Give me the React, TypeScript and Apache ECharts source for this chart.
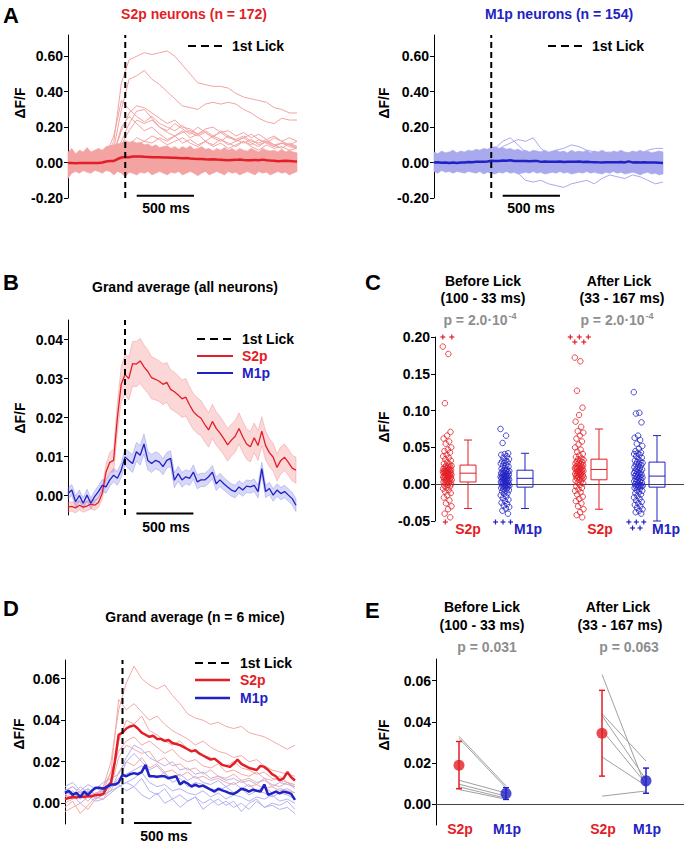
import React, { useEffect, useRef } from 'react';
import * as echarts from 'echarts';

const FONT = '"Liberation Sans", Arial, Helvetica, sans-serif';
const RED = '#e31e26';
const BLUE = '#2222c4';
const PINK = '#f4a3a3';
const LBLUE = '#a9a9ee';
const GRAY = '#8e8e8e';

// ---------- time base (30 Hz frames, -500 .. +1500 ms around 1st lick) ----------
const FRAME_MS = 1000 / 30;
const t61 = Array.from({ length: 61 }, (_, i) => -500 + i * FRAME_MS);
const t31 = Array.from({ length: 31 }, (_, k) => -500 + 2 * k * FRAME_MS);

// ---------- Panel B: grand average (all neurons), mean and SEM ----------
const bS2pMean = [
  -0.0030, -0.0028, -0.0032, -0.0025, -0.0030, -0.0027, -0.0022, -0.0025, -0.0018, 0.0005,
  0.0060, 0.0085, 0.0090, 0.0200, 0.0285, 0.0310, 0.0300, 0.0338, 0.0337, 0.0345,
  0.0330, 0.0318, 0.0302, 0.0298, 0.0293, 0.0285, 0.0290, 0.0272, 0.0266, 0.0258,
  0.0248, 0.0252, 0.0232, 0.0215, 0.0205, 0.0198, 0.0182, 0.0168, 0.0190, 0.0172,
  0.0160, 0.0146, 0.0130, 0.0142, 0.0152, 0.0172, 0.0150, 0.0132, 0.0125, 0.0148,
  0.0128, 0.0165, 0.0128, 0.0110, 0.0098, 0.0072, 0.0090, 0.0098, 0.0085, 0.0070,
  0.0065,
];
const bS2pSem = [
  0.0012, 0.0012, 0.0013, 0.0012, 0.0013, 0.0012, 0.0012, 0.0013, 0.0013, 0.0015,
  0.0020, 0.0025, 0.0030, 0.0038, 0.0045, 0.0052, 0.0055, 0.0057, 0.0058, 0.0058,
  0.0056, 0.0055, 0.0054, 0.0053, 0.0052, 0.0052, 0.0051, 0.0050, 0.0050, 0.0049,
  0.0048, 0.0048, 0.0047, 0.0046, 0.0046, 0.0045, 0.0045, 0.0044, 0.0044, 0.0043,
  0.0043, 0.0042, 0.0042, 0.0041, 0.0041, 0.0040, 0.0040, 0.0039, 0.0039, 0.0038,
  0.0038, 0.0037, 0.0037, 0.0036, 0.0036, 0.0035, 0.0035, 0.0034, 0.0034, 0.0033,
  0.0033,
];
const bM1pMean = [
  0.0005, 0.0014, -0.0016, 0.0000, -0.0020, 0.0001, -0.0020, -0.0003, 0.0010, 0.0026,
  0.0022, 0.0040, 0.0052, 0.0044, 0.0065, 0.0099, 0.0090, 0.0082, 0.0112, 0.0103,
  0.0132, 0.0090, 0.0082, 0.0090, 0.0086, 0.0074, 0.0090, 0.0095, 0.0039, 0.0056,
  0.0040, 0.0048, 0.0044, 0.0060, 0.0035, 0.0040, 0.0040, 0.0048, 0.0060, 0.0030,
  0.0040, 0.0030, 0.0022, 0.0014, 0.0010, 0.0022, 0.0014, 0.0024, 0.0022, 0.0026,
  0.0010, 0.0069, 0.0010, 0.0018, 0.0001, 0.0014, 0.0005, 0.0010, 0.0001, -0.0008,
  -0.0025,
];
const bM1pSem = [
  0.0014, 0.0014, 0.0015, 0.0014, 0.0014, 0.0015, 0.0014, 0.0014, 0.0015, 0.0015,
  0.0016, 0.0016, 0.0017, 0.0018, 0.0019, 0.0021, 0.0022, 0.0023, 0.0024, 0.0025,
  0.0026, 0.0024, 0.0023, 0.0022, 0.0021, 0.0021, 0.0020, 0.0020, 0.0019, 0.0019,
  0.0019, 0.0018, 0.0018, 0.0018, 0.0018, 0.0017, 0.0017, 0.0017, 0.0017, 0.0017,
  0.0017, 0.0016, 0.0016, 0.0016, 0.0016, 0.0016, 0.0016, 0.0016, 0.0016, 0.0016,
  0.0016, 0.0016, 0.0016, 0.0016, 0.0016, 0.0016, 0.0016, 0.0016, 0.0016, 0.0016,
  0.0016,
];

// ---------- Panel A: envelope of all single-neuron traces ----------
const aS2pUpper = [
  0.060, 0.080, 0.050, 0.070, 0.060, 0.085, 0.060, 0.070, 0.080, 0.070,
  0.090, 0.095, 0.100, 0.105, 0.110, 0.125, 0.115, 0.120, 0.110, 0.115,
  0.100, 0.105, 0.090, 0.100, 0.085, 0.090, 0.095, 0.080, 0.090, 0.075,
  0.090, 0.080, 0.095, 0.075, 0.080, 0.090, 0.075, 0.080, 0.065, 0.080,
  0.070, 0.085, 0.070, 0.080, 0.065, 0.080, 0.070, 0.065, 0.080, 0.070,
  0.060, 0.080, 0.070, 0.065, 0.070, 0.060, 0.075, 0.060, 0.070, 0.060,
  0.055,
];
const aS2pLower = [
  -0.090, -0.060, -0.050, -0.060, -0.045, -0.055, -0.060, -0.045, -0.050, -0.060,
  -0.045, -0.050, -0.070, -0.050, -0.060, -0.080, -0.055, -0.060, -0.070, -0.055,
  -0.060, -0.050, -0.070, -0.060, -0.050, -0.060, -0.070, -0.055, -0.060, -0.050,
  -0.070, -0.060, -0.050, -0.060, -0.075, -0.060, -0.050, -0.070, -0.060, -0.050,
  -0.060, -0.070, -0.050, -0.060, -0.055, -0.070, -0.060, -0.050, -0.060, -0.070,
  -0.050, -0.060, -0.055, -0.070, -0.060, -0.050, -0.060, -0.055, -0.070, -0.060,
  -0.050,
];
const aM1pUpper = [
  0.060, 0.050, 0.065, 0.055, 0.060, 0.070, 0.055, 0.065, 0.060, 0.070,
  0.065, 0.075, 0.070, 0.080, 0.075, 0.085, 0.090, 0.080, 0.085, 0.075,
  0.080, 0.070, 0.075, 0.065, 0.070, 0.060, 0.070, 0.065, 0.060, 0.070,
  0.060, 0.065, 0.070, 0.060, 0.065, 0.055, 0.070, 0.060, 0.065, 0.060,
  0.070, 0.055, 0.065, 0.060, 0.070, 0.060, 0.055, 0.065, 0.060, 0.070,
  0.060, 0.055, 0.065, 0.060, 0.070, 0.060, 0.065, 0.055, 0.060, 0.065,
  0.060,
];
const aM1pLower = [
  -0.050, -0.060, -0.045, -0.055, -0.050, -0.060, -0.050, -0.055, -0.060, -0.050,
  -0.055, -0.060, -0.050, -0.065, -0.055, -0.060, -0.065, -0.055, -0.060, -0.050,
  -0.060, -0.055, -0.065, -0.060, -0.055, -0.060, -0.050, -0.060, -0.055, -0.065,
  -0.060, -0.055, -0.060, -0.050, -0.060, -0.055, -0.065, -0.060, -0.055, -0.060,
  -0.050, -0.060, -0.055, -0.060, -0.065, -0.055, -0.060, -0.050, -0.060, -0.055,
  -0.065, -0.060, -0.055, -0.060, -0.070, -0.060, -0.055, -0.065, -0.060, -0.070,
  -0.065,
];

// ---------- Panel A: visible single-neuron traces (every 2nd frame) ----------
const aS2pT1 = [0.00, 0.02, -0.01, 0.01, 0.00, 0.03, 0.12, 0.45, 0.58, 0.60, 0.62, 0.61, 0.62, 0.63, 0.60, 0.55, 0.50, 0.45, 0.44, 0.43, 0.43, 0.42, 0.39, 0.37, 0.36, 0.35, 0.34, 0.31, 0.30, 0.28, 0.28];
const aS2pT2 = [0.01, -0.01, 0.02, 0.00, 0.01, 0.02, 0.08, 0.30, 0.47, 0.49, 0.52, 0.47, 0.44, 0.40, 0.36, 0.32, 0.31, 0.30, 0.33, 0.34, 0.33, 0.34, 0.33, 0.30, 0.28, 0.25, 0.23, 0.22, 0.25, 0.24, 0.24];
const aS2pT3 = [0.00, 0.01, 0.00, -0.01, 0.01, 0.02, 0.05, 0.18, 0.28, 0.32, 0.31, 0.28, 0.25, 0.22, 0.24, 0.20, 0.19, 0.16, 0.18, 0.15, 0.17, 0.14, 0.13, 0.15, 0.12, 0.11, 0.13, 0.10, 0.11, 0.09, 0.08];
const aS2pT4 = [0.01, 0.00, 0.02, 0.01, 0.00, 0.01, 0.04, 0.12, 0.22, 0.29, 0.30, 0.25, 0.20, 0.18, 0.22, 0.19, 0.16, 0.20, 0.17, 0.14, 0.18, 0.15, 0.12, 0.14, 0.16, 0.13, 0.11, 0.14, 0.12, 0.10, 0.12];
const aS2pT5 = [0.00, 0.01, 0.00, 0.02, 0.01, 0.00, 0.03, 0.10, 0.18, 0.24, 0.22, 0.24, 0.20, 0.17, 0.15, 0.18, 0.14, 0.16, 0.12, 0.15, 0.13, 0.10, 0.12, 0.14, 0.11, 0.09, 0.12, 0.10, 0.08, 0.11, 0.09];
const aS2pT6 = [0.01, 0.00, -0.01, 0.01, 0.00, 0.02, 0.02, 0.05, 0.08, 0.10, 0.12, 0.11, 0.14, 0.12, 0.15, 0.17, 0.18, 0.16, 0.19, 0.20, 0.17, 0.18, 0.15, 0.17, 0.14, 0.16, 0.13, 0.15, 0.12, 0.14, 0.12];
const aS2pT7 = [0.00, 0.01, 0.00, 0.01, 0.02, 0.01, 0.05, 0.20, 0.26, 0.22, 0.18, 0.20, 0.16, 0.13, 0.15, 0.11, 0.13, 0.10, 0.12, 0.09, 0.11, 0.08, 0.10, 0.12, 0.09, 0.07, 0.10, 0.08, 0.09, 0.07, 0.08];
const aS2pT8 = [0.01, 0.00, 0.01, 0.00, 0.01, 0.00, 0.02, 0.06, 0.10, 0.14, 0.12, 0.15, 0.13, 0.10, 0.12, 0.14, 0.11, 0.09, 0.12, 0.10, 0.13, 0.11, 0.09, 0.12, 0.10, 0.13, 0.11, 0.09, 0.11, 0.10, 0.09];
const aS2pT9 = [0.00, 0.01, 0.00, 0.01, 0.02, 0.05, 0.15, 0.35, 0.30, 0.26, 0.23, 0.26, 0.22, 0.20, 0.18, 0.21, 0.17, 0.15, 0.17, 0.14, 0.12, 0.15, 0.13, 0.11, 0.13, 0.10, 0.12, 0.09, 0.11, 0.10, 0.08];
const aS2pTraces = [aS2pT1, aS2pT2, aS2pT3, aS2pT4, aS2pT5, aS2pT6, aS2pT7, aS2pT8, aS2pT9];

const aM1pT1 = [0.01, 0.00, 0.02, 0.01, 0.00, 0.02, 0.01, 0.03, 0.08, 0.12, 0.14, 0.10, 0.06, 0.04, 0.05, 0.03, 0.04, 0.02, 0.03, 0.02, 0.04, 0.03, 0.02, 0.03, 0.01, 0.02, 0.03, 0.01, 0.02, 0.01, 0.02];
const aM1pT2 = [0.00, 0.01, 0.00, 0.02, 0.01, 0.00, 0.02, 0.04, 0.06, 0.09, 0.11, 0.13, 0.12, 0.14, 0.08, 0.05, 0.06, 0.04, 0.05, 0.03, 0.04, 0.02, 0.03, 0.04, 0.02, 0.03, 0.02, 0.04, 0.03, 0.02, 0.03];
const aM1pT3 = [-0.01, 0.00, -0.02, -0.01, 0.00, -0.02, -0.01, -0.03, -0.02, -0.04, -0.03, -0.06, -0.10, -0.11, -0.10, -0.12, -0.13, -0.14, -0.12, -0.11, -0.10, -0.12, -0.09, -0.07, -0.08, -0.09, -0.07, -0.08, -0.10, -0.12, -0.11];
const aM1pT4 = [0.00, 0.01, 0.02, 0.00, 0.01, 0.02, 0.01, 0.02, 0.03, 0.02, 0.04, 0.03, 0.05, 0.04, 0.06, 0.05, 0.07, 0.08, 0.10, 0.09, 0.07, 0.06, 0.05, 0.06, 0.04, 0.05, 0.06, 0.05, 0.07, 0.08, 0.08];
const aM1pTraces = [aM1pT1, aM1pT2, aM1pT3, aM1pT4];

// ---------- Panel D: per-mouse averages (every 2nd frame) and grand averages ----------
const dS2pMice = [
  [0.003, 0.005, 0.002, 0.006, 0.004, 0.008, 0.020, 0.045, 0.058, 0.066, 0.060, 0.057, 0.055, 0.057, 0.052, 0.048, 0.043, 0.041, 0.040, 0.038, 0.039, 0.037, 0.036, 0.037, 0.034, 0.033, 0.032, 0.030, 0.028, 0.026, 0.028],
  [0.000, 0.002, 0.004, 0.001, 0.005, 0.006, 0.015, 0.050, 0.045, 0.048, 0.044, 0.040, 0.042, 0.038, 0.035, 0.033, 0.031, 0.028, 0.030, 0.027, 0.025, 0.024, 0.022, 0.023, 0.020, 0.021, 0.018, 0.016, 0.015, 0.014, 0.013],
  [-0.004, -0.002, 0.000, -0.003, 0.002, 0.004, 0.010, 0.030, 0.040, 0.038, 0.042, 0.035, 0.033, 0.030, 0.028, 0.030, 0.026, 0.025, 0.023, 0.022, 0.020, 0.018, 0.020, 0.017, 0.016, 0.014, 0.015, 0.012, 0.011, 0.010, 0.009],
  [0.006, 0.008, 0.005, 0.007, 0.004, 0.008, 0.015, 0.025, 0.030, 0.032, 0.028, 0.030, 0.027, 0.024, 0.026, 0.022, 0.020, 0.021, 0.018, 0.017, 0.019, 0.015, 0.016, 0.014, 0.013, 0.015, 0.012, 0.011, 0.013, 0.010, 0.008],
  [-0.002, 0.001, -0.005, -0.001, 0.003, 0.002, 0.008, 0.022, 0.028, 0.026, 0.024, 0.025, 0.020, 0.022, 0.018, 0.019, 0.016, 0.017, 0.014, 0.016, 0.013, 0.012, 0.014, 0.011, 0.012, 0.010, 0.011, 0.009, 0.008, 0.010, 0.007],
  [0.004, 0.002, 0.006, 0.003, 0.005, 0.004, 0.006, 0.015, 0.020, 0.018, 0.022, 0.017, 0.019, 0.015, 0.016, 0.013, 0.015, 0.012, 0.013, 0.011, 0.012, 0.010, 0.009, 0.011, 0.008, 0.009, 0.007, 0.008, 0.006, 0.007, 0.005],
];
const dM1pMice = [
  [0.008, 0.010, 0.006, 0.009, 0.007, 0.010, 0.012, 0.014, 0.022, 0.028, 0.026, 0.022, 0.020, 0.018, 0.020, 0.016, 0.017, 0.014, 0.015, 0.012, 0.013, 0.011, 0.012, 0.010, 0.011, 0.009, 0.012, 0.008, 0.010, 0.009, 0.008],
  [0.006, 0.004, 0.008, 0.005, 0.007, 0.006, 0.009, 0.010, 0.020, 0.024, 0.020, 0.016, 0.018, 0.014, 0.012, 0.014, 0.011, 0.013, 0.010, 0.009, 0.011, 0.008, 0.010, 0.007, 0.009, 0.006, 0.008, 0.005, 0.007, 0.006, 0.005],
  [0.004, 0.006, 0.002, 0.005, 0.003, 0.006, 0.008, 0.012, 0.014, 0.016, 0.018, 0.014, 0.012, 0.015, 0.010, 0.012, 0.008, 0.010, 0.009, 0.007, 0.006, 0.008, 0.005, 0.007, 0.004, 0.006, 0.005, 0.003, 0.005, 0.004, 0.002],
  [0.007, 0.005, 0.004, 0.006, 0.002, 0.004, 0.006, 0.008, 0.010, 0.012, 0.015, 0.010, 0.008, 0.009, 0.006, 0.007, 0.005, 0.004, 0.006, 0.003, 0.005, 0.002, 0.004, 0.003, 0.001, 0.003, 0.002, 0.004, 0.001, 0.002, 0.000],
  [0.002, 0.004, 0.000, 0.003, 0.001, 0.002, 0.005, 0.008, 0.010, 0.008, 0.012, 0.006, 0.004, 0.007, 0.002, 0.004, 0.001, 0.003, 0.000, 0.002, -0.001, 0.001, -0.002, 0.000, -0.003, 0.001, -0.002, -0.001, -0.003, -0.002, -0.005],
  [0.006, 0.008, 0.005, 0.007, 0.004, 0.006, 0.008, 0.009, 0.006, 0.008, 0.004, 0.002, 0.005, 0.000, 0.002, -0.002, 0.001, 0.003, -0.003, 0.000, 0.002, -0.001, 0.001, -0.004, 0.000, 0.002, -0.002, 0.000, -0.001, 0.001, -0.003],
];
const dS2pMean = [
  0.0020, 0.0025, 0.0030, 0.0028, 0.0032, 0.0030, 0.0035, 0.0033, 0.0040, 0.0040,
  0.0045, 0.0080, 0.0100, 0.0200, 0.0330, 0.0340, 0.0360, 0.0370, 0.0375, 0.0360,
  0.0340, 0.0330, 0.0320, 0.0325, 0.0310, 0.0310, 0.0300, 0.0305, 0.0290, 0.0285,
  0.0280, 0.0270, 0.0260, 0.0250, 0.0255, 0.0240, 0.0230, 0.0220, 0.0210, 0.0215,
  0.0200, 0.0185, 0.0180, 0.0175, 0.0190, 0.0210, 0.0190, 0.0180, 0.0170, 0.0165,
  0.0160, 0.0180, 0.0175, 0.0160, 0.0140, 0.0130, 0.0110, 0.0120, 0.0150, 0.0125,
  0.0110,
];
const dM1pMean = [
  0.0050, 0.0060, 0.0040, 0.0050, 0.0030, 0.0055, 0.0040, 0.0060, 0.0075, 0.0075,
  0.0070, 0.0080, 0.0090, 0.0090, 0.0100, 0.0137, 0.0130, 0.0140, 0.0145, 0.0140,
  0.0150, 0.0185, 0.0130, 0.0130, 0.0128, 0.0130, 0.0130, 0.0120, 0.0125, 0.0130,
  0.0090, 0.0105, 0.0095, 0.0080, 0.0090, 0.0080, 0.0085, 0.0075, 0.0065, 0.0056,
  0.0070, 0.0062, 0.0056, 0.0048, 0.0045, 0.0055, 0.0070, 0.0065, 0.0056, 0.0065,
  0.0060, 0.0056, 0.0090, 0.0040, 0.0048, 0.0056, 0.0048, 0.0056, 0.0052, 0.0045,
  0.0016,
];

// ---------- Panel C: per-neuron window averages ----------
const cBeforeS2p = [
  0.187, 0.177, 0.110, 0.071, 0.066, 0.062, 0.058, 0.055, 0.050, 0.047, 0.045, 0.043, 0.040, 0.038, 0.036, 0.034, 0.032, 0.030, 0.028, 0.027,
  0.025, 0.025, 0.024, 0.023, 0.023, 0.022, 0.021, 0.021, 0.020, 0.019, 0.019, 0.018, 0.018, 0.017, 0.017, 0.016, 0.016, 0.015, 0.015, 0.015,
  0.014, 0.014, 0.013, 0.013, 0.012, 0.012, 0.011, 0.010, 0.010, 0.009, 0.009, 0.008, 0.008, 0.007, 0.006, 0.006, 0.005, 0.005, 0.004, 0.004,
  0.003, 0.002, 0.001, 0.000, -0.001, -0.002, -0.003, -0.005, -0.006, -0.008, -0.010, -0.012, -0.015, -0.018, -0.022, -0.026, -0.030, -0.034, -0.040, -0.045,
];
const cBeforeM1p = [
  0.075, 0.066, 0.056, 0.042, 0.041, 0.040, 0.038, 0.036, 0.034, 0.032, 0.031, 0.030, 0.029, 0.028, 0.026, 0.025, 0.024, 0.022, 0.021, 0.020,
  0.019, 0.018, 0.018, 0.017, 0.016, 0.016, 0.015, 0.014, 0.014, 0.013, 0.012, 0.012, 0.011, 0.011, 0.010, 0.010, 0.009, 0.009, 0.008, 0.008,
  0.007, 0.007, 0.006, 0.005, 0.005, 0.004, 0.004, 0.003, 0.002, 0.002, 0.001, 0.000, 0.000, -0.001, -0.001, -0.002, -0.002, -0.003, -0.003, -0.004,
  -0.005, -0.006, -0.007, -0.008, -0.009, -0.010, -0.012, -0.013, -0.015, -0.017, -0.019, -0.021, -0.023, -0.025, -0.027, -0.029, -0.031, -0.033, -0.036, -0.040,
];
const cAfterS2p = [
  0.172, 0.167, 0.127, 0.104, 0.094, 0.085, 0.078, 0.072, 0.070, 0.066, 0.062, 0.058, 0.054, 0.050, 0.047, 0.044, 0.041, 0.039, 0.037, 0.035,
  0.034, 0.033, 0.032, 0.031, 0.030, 0.029, 0.028, 0.027, 0.027, 0.026, 0.025, 0.024, 0.024, 0.023, 0.022, 0.022, 0.021, 0.021, 0.020, 0.020,
  0.019, 0.018, 0.018, 0.017, 0.016, 0.016, 0.015, 0.014, 0.014, 0.013, 0.012, 0.012, 0.011, 0.010, 0.010, 0.009, 0.008, 0.008, 0.007, 0.006,
  0.005, 0.004, 0.002, 0.001, -0.001, -0.003, -0.005, -0.007, -0.009, -0.011, -0.014, -0.017, -0.020, -0.023, -0.026, -0.030, -0.034, -0.038, -0.042, -0.045,
];
const cAfterM1p = [
  0.125, 0.097, 0.096, 0.084, 0.066, 0.063, 0.060, 0.055, 0.052, 0.048, 0.045, 0.043, 0.042, 0.041, 0.040, 0.038, 0.036, 0.034, 0.032, 0.031,
  0.030, 0.029, 0.028, 0.027, 0.026, 0.024, 0.023, 0.022, 0.021, 0.020, 0.019, 0.018, 0.017, 0.016, 0.015, 0.014, 0.013, 0.013, 0.012, 0.011,
  0.010, 0.010, 0.009, 0.008, 0.007, 0.006, 0.005, 0.004, 0.004, 0.003, 0.002, 0.001, 0.000, -0.001, -0.001, -0.002, -0.002, -0.003, -0.003, -0.004,
  -0.005, -0.006, -0.008, -0.009, -0.011, -0.012, -0.014, -0.016, -0.018, -0.020, -0.022, -0.024, -0.026, -0.028, -0.030, -0.032, -0.034, -0.036, -0.038, -0.040,
];
const cGroups = [cBeforeS2p, cBeforeM1p, cAfterS2p, cAfterM1p];
const cOutHigh = [2, 0, 5, 0]; // points above the axis range
const cOutLow = [1, 3, 0, 5]; // points below the axis range
const cBoxLow = [-0.033, -0.033, -0.034, -0.050];
const cBoxQ1 = [0.003, -0.004, 0.006, -0.004];
const cBoxMed = [0.015, 0.008, 0.020, 0.011];
const cBoxQ3 = [0.026, 0.019, 0.034, 0.030];
const cBoxHigh = [0.060, 0.042, 0.075, 0.066];
const cLabels = ['S2p', 'M1p', 'S2p', 'M1p'];

// ---------- Panel E: per-mouse window averages ----------
const eBeforeS2p = [0.033, 0.032, 0.0117, 0.0098, 0.0085, 0.0072];
const eBeforeM1p = [0.009, 0.008, 0.0055, 0.004, 0.003, 0.0025];
const eAfterS2p = [0.063, 0.044, 0.043, 0.036, 0.023, 0.004];
const eAfterM1p = [0.008, 0.021, 0.012, 0.010, 0.009, 0.0065];
const eMean = [0.019, 0.0053, 0.0345, 0.0114];
const eLow = [0.0076, 0.0024, 0.0137, 0.0054];
const eHigh = [0.0305, 0.0081, 0.0553, 0.0176];

// ---------- layout (pixels inside the C / E grids) ----------
const C_SCATTER_X = [12.3, 70, 144.3, 203.3];
const C_BOX_X = [33, 90, 164, 222];
const C_LABEL_X = [468, 528, 600, 666];
const E_X = [23, 70, 166, 210];
const GROUP_COLORS = [RED, BLUE, RED, BLUE];

const jitter = (i: number) => (((i * 0.6180339887) % 1) - 0.5) * 9;

function buildOption(): any {
  const grids = [
    { left: 68, top: 35, width: 229, height: 163 },
    { left: 434, top: 35, width: 229, height: 163 },
    { left: 68, top: 320, width: 228, height: 195 },
    { left: 435, top: 337, width: 249, height: 184 },
    { left: 65, top: 660, width: 230, height: 164 },
    { left: 436, top: 659, width: 248, height: 166 },
  ];

  const yAx = (gi: number, min: number, max: number, ticks: number[], dec: number) => ({
    type: 'value', gridIndex: gi, min, max,
    axisLine: { show: true, onZero: false, lineStyle: { color: '#000', width: 1 } },
    axisTick: { show: true, length: 4, customValues: ticks, lineStyle: { color: '#000', width: 1 } },
    axisLabel: {
      customValues: ticks, formatter: (v: number) => v.toFixed(dec), color: '#000',
      fontSize: 14, fontWeight: 'bold', fontFamily: FONT, margin: 5,
    },
    splitLine: { show: false },
  });
  const xTime = (gi: number) => ({ type: 'value', gridIndex: gi, min: -500, max: 1500, show: false });
  const xCat = (gi: number, max: number) => ({
    type: 'value', gridIndex: gi, min: 0, max,
    axisLine: { show: true, onZero: true, lineStyle: { color: '#444', width: 1 } },
    axisTick: { show: false }, axisLabel: { show: false }, splitLine: { show: false },
  });

  const xAxis = [xTime(0), xTime(1), xTime(2), xCat(3, 249), xTime(4), xCat(5, 248)];
  const yAxis = [
    yAx(0, -0.2, 0.72, [-0.2, 0, 0.2, 0.4, 0.6], 2),
    yAx(1, -0.2, 0.72, [-0.2, 0, 0.2, 0.4, 0.6], 2),
    yAx(2, -0.005, 0.045, [0, 0.01, 0.02, 0.03, 0.04], 2),
    yAx(3, -0.05, 0.2, [-0.05, 0, 0.05, 0.1, 0.15, 0.2], 2),
    yAx(4, -0.01, 0.069, [0, 0.02, 0.04, 0.06], 2),
    yAx(5, -0.01, 0.0705, [0, 0.02, 0.04, 0.06], 2),
  ];

  const line = (gi: number, ts: number[], ys: number[], color: string, width: number, z = 2) => ({
    type: 'line', xAxisIndex: gi, yAxisIndex: gi, data: ts.map((t, i) => [t, ys[i]]),
    symbol: 'none', lineStyle: { color, width }, silent: true, z, clip: false,
  });
  const band = (gi: number, lo: number[], hi: number[], fill: string, stroke: string) => ({
    type: 'custom', xAxisIndex: gi, yAxisIndex: gi, silent: true, z: 1,
    data: [[t61[0], lo[0]]],
    renderItem: (_p: any, api: any) => {
      const pts: number[][] = [];
      for (let i = 0; i < t61.length; i++) pts.push(api.coord([t61[i], hi[i]]));
      for (let i = t61.length - 1; i >= 0; i--) pts.push(api.coord([t61[i], lo[i]]));
      return { type: 'polygon', shape: { points: pts }, style: { fill, stroke, lineWidth: 0.6 } };
    },
  });
  const lick = (gi: number, min: number, max: number) => ({
    type: 'line', xAxisIndex: gi, yAxisIndex: gi, data: [[0, min], [0, max]], symbol: 'none',
    lineStyle: { color: '#000', width: 2, type: [6, 4] }, silent: true, z: 6, clip: false,
  });
  const scaleBar = (gi: number, y: number) => ({
    type: 'line', xAxisIndex: gi, yAxisIndex: gi, data: [[100, y], [600, y]], symbol: 'none',
    lineStyle: { color: '#000', width: 2 }, silent: true, z: 6, clip: false,
  });

  const series: any[] = [];
  // Panel A left
  series.push(band(0, aS2pLower, aS2pUpper, PINK, PINK));
  aS2pTraces.forEach((tr) => series.push(line(0, t31, tr, PINK, 1)));
  series.push(line(0, t61, bS2pMean, RED, 2.5, 4));
  series.push(lick(0, -0.2, 0.72));
  series.push(scaleBar(0, -0.188));
  // Panel A right
  series.push(band(1, aM1pLower, aM1pUpper, LBLUE, LBLUE));
  aM1pTraces.forEach((tr) => series.push(line(1, t31, tr, LBLUE, 1)));
  series.push(line(1, t61, bM1pMean, BLUE, 2.5, 4));
  series.push(lick(1, -0.2, 0.72));
  series.push(scaleBar(1, -0.188));
  // Panel B
  const lo = (m: number[], s: number[]) => m.map((v, i) => v - s[i]);
  const hi = (m: number[], s: number[]) => m.map((v, i) => v + s[i]);
  series.push(band(2, lo(bS2pMean, bS2pSem), hi(bS2pMean, bS2pSem), 'rgba(240,110,110,0.28)', 'rgba(235,110,110,0.55)'));
  series.push(band(2, lo(bM1pMean, bM1pSem), hi(bM1pMean, bM1pSem), 'rgba(110,110,230,0.28)', 'rgba(110,110,230,0.55)'));
  series.push(line(2, t61, bS2pMean, RED, 1.3, 3));
  series.push(line(2, t61, bM1pMean, BLUE, 1.3, 3));
  series.push(lick(2, -0.005, 0.045));
  series.push(scaleBar(2, -0.0046));
  // Panel D
  dS2pMice.forEach((tr) => series.push(line(4, t31, tr, '#f5a9a9', 1)));
  dM1pMice.forEach((tr) => series.push(line(4, t31, tr, '#b3b3f0', 1)));
  series.push(line(4, t61, dS2pMean, RED, 2.5, 4));
  series.push(line(4, t61, dM1pMean, BLUE, 2.5, 4));
  series.push(lick(4, -0.01, 0.069));
  series.push(scaleBar(4, -0.0095));

  // Panel C scatter
  cGroups.forEach((vals, g) => {
    series.push({
      type: 'scatter', xAxisIndex: 3, yAxisIndex: 3, silent: true, clip: false,
      data: vals.map((v, i) => [C_SCATTER_X[g] + jitter(i), v]),
      symbol: 'circle', symbolSize: 5.5,
      itemStyle: { color: 'rgba(255,255,255,0)', borderColor: GROUP_COLORS[g], borderWidth: 1 },
      z: 3,
    });
  });
  // Panel C boxes
  series.push({
    type: 'custom', xAxisIndex: 3, yAxisIndex: 3, silent: true, z: 4,
    data: C_BOX_X.map((x, g) => [x, cBoxLow[g], cBoxQ1[g], cBoxMed[g], cBoxQ3[g], cBoxHigh[g]]),
    renderItem: (p: any, api: any) => {
      const x = api.value(0);
      const c = GROUP_COLORS[p.dataIndex];
      const pL = api.coord([x, api.value(1)]);
      const p1 = api.coord([x, api.value(2)]);
      const pM = api.coord([x, api.value(3)]);
      const p3 = api.coord([x, api.value(4)]);
      const pH = api.coord([x, api.value(5)]);
      const hw = 8, cw = 4;
      const st = { stroke: c, lineWidth: 1, fill: 'none' };
      return {
        type: 'group', children: [
          { type: 'line', shape: { x1: pL[0], y1: pL[1], x2: p1[0], y2: p1[1] }, style: st },
          { type: 'line', shape: { x1: p3[0], y1: p3[1], x2: pH[0], y2: pH[1] }, style: st },
          { type: 'line', shape: { x1: pL[0] - cw, y1: pL[1], x2: pL[0] + cw, y2: pL[1] }, style: st },
          { type: 'line', shape: { x1: pH[0] - cw, y1: pH[1], x2: pH[0] + cw, y2: pH[1] }, style: st },
          { type: 'rect', shape: { x: p3[0] - hw, y: p3[1], width: 2 * hw, height: p1[1] - p3[1] }, style: st },
          { type: 'line', shape: { x1: pM[0] - hw, y1: pM[1], x2: pM[0] + hw, y2: pM[1] }, style: st },
        ],
      };
    },
  });
  // Panel C out-of-range markers
  const outRows: number[][] = [];
  C_SCATTER_X.forEach((x, g) => {
    if (cOutHigh[g] > 0) outRows.push([x, cOutHigh[g], 1, g]);
    if (cOutLow[g] > 0) outRows.push([x - 2, cOutLow[g], -1, g]);
  });
  series.push({
    type: 'custom', xAxisIndex: 3, yAxisIndex: 3, silent: true, z: 5,
    data: outRows,
    renderItem: (_p: any, api: any) => {
      const x = api.value(0), n = api.value(1), side = api.value(2), g = api.value(3);
      const c = GROUP_COLORS[g];
      const edge = api.coord([x, side > 0 ? 0.2 : -0.05]);
      const kids: any[] = [];
      const gap = side > 0 ? 9 : 7.5;
      let remaining = n, row = 0;
      while (remaining > 0) {
        const cnt = Math.min(3, remaining);
        for (let j = 0; j < cnt; j++) {
          const cx = edge[0] + (j - (cnt - 1) / 2) * gap;
          const cy = side > 0 ? edge[1] + row * 5 : edge[1] + 1 + row * 6;
          kids.push({ type: 'line', shape: { x1: cx - 2.5, y1: cy, x2: cx + 2.5, y2: cy }, style: { stroke: c, lineWidth: 1.2 } });
          kids.push({ type: 'line', shape: { x1: cx, y1: cy - 2.5, x2: cx, y2: cy + 2.5 }, style: { stroke: c, lineWidth: 1.2 } });
        }
        remaining -= cnt;
        row++;
      }
      return { type: 'group', children: kids };
    },
  });

  // Panel E pairs
  const pairs: number[][] = [];
  eBeforeS2p.forEach((v, i) => pairs.push([E_X[0], v, E_X[1], eBeforeM1p[i]]));
  eAfterS2p.forEach((v, i) => pairs.push([E_X[2], v, E_X[3], eAfterM1p[i]]));
  series.push({
    type: 'custom', xAxisIndex: 5, yAxisIndex: 5, silent: true, z: 2,
    data: pairs,
    renderItem: (_p: any, api: any) => {
      const a = api.coord([api.value(0), api.value(1)]);
      const b = api.coord([api.value(2), api.value(3)]);
      return { type: 'line', shape: { x1: a[0], y1: a[1], x2: b[0], y2: b[1] }, style: { stroke: '#a0a0a0', lineWidth: 1 } };
    },
  });
  series.push({
    type: 'custom', xAxisIndex: 5, yAxisIndex: 5, silent: true, z: 3,
    data: E_X.map((x, i) => [x, eLow[i], eHigh[i]]),
    renderItem: (p: any, api: any) => {
      const c = GROUP_COLORS[p.dataIndex];
      const a = api.coord([api.value(0), api.value(1)]);
      const b = api.coord([api.value(0), api.value(2)]);
      const st = { stroke: c, lineWidth: 1.5 };
      return {
        type: 'group', children: [
          { type: 'line', shape: { x1: a[0], y1: a[1], x2: b[0], y2: b[1] }, style: st },
          { type: 'line', shape: { x1: a[0] - 3, y1: a[1], x2: a[0] + 3, y2: a[1] }, style: st },
          { type: 'line', shape: { x1: b[0] - 3, y1: b[1], x2: b[0] + 3, y2: b[1] }, style: st },
        ],
      };
    },
  });
  series.push({
    type: 'scatter', xAxisIndex: 5, yAxisIndex: 5, silent: true, z: 4,
    data: E_X.map((x, i) => [x, eMean[i]]),
    symbol: 'circle', symbolSize: 11,
    itemStyle: { color: (p: any) => GROUP_COLORS[p.dataIndex] },
  });

  // ---------- texts and legends ----------
  const txt = (text: string, x: number, y: number, o: any = {}) => ({
    type: 'text', x, y, rotation: o.rot || 0, silent: true, z: 10,
    style: {
      text, fill: o.color || '#000', fontSize: o.size || 14, fontWeight: 'bold', fontFamily: FONT,
      align: o.align || 'center', textAlign: o.align || 'center',
      verticalAlign: 'middle', textVerticalAlign: 'middle',
    },
  });
  const hline = (x1: number, x2: number, y: number, color: string, w: number, dash?: number[]) => ({
    type: 'line', silent: true, z: 10, shape: { x1, y1: y, x2, y2: y },
    style: { stroke: color, lineWidth: w, lineDash: dash || null },
  });
  const pSup = (base: string, exp: string, x: number, y: number) => ({
    type: 'text', x, y, silent: true, z: 10,
    style: {
      text: `{a|${base}}{b|${exp}}`, align: 'center', textAlign: 'center', verticalAlign: 'middle', textVerticalAlign: 'middle',
      rich: {
        a: { fontSize: 14, fontWeight: 'bold', fontFamily: FONT, fill: GRAY, color: GRAY },
        b: { fontSize: 9, fontWeight: 'bold', fontFamily: FONT, fill: GRAY, color: GRAY, padding: [0, 0, 9, 1] },
      },
    },
  });
  const ROT = Math.PI / 2;
  const graphic: any[] = [
    // A
    txt('A', 3, 15, { size: 22, align: 'left' }),
    txt('S2p neurons (n = 172)', 194, 14, { color: RED }),
    txt('M1p neurons (n = 154)', 559, 14, { color: BLUE }),
    txt('ΔF/F', 20, 103, { rot: ROT }),
    txt('ΔF/F', 384, 103, { rot: ROT }),
    hline(188, 223, 46, '#000', 2, [8, 5]), txt('1st Lick', 232, 46, { align: 'left' }),
    hline(548, 583, 46, '#000', 2, [8, 5]), txt('1st Lick', 592, 46, { align: 'left' }),
    txt('500 ms', 166, 208), txt('500 ms', 531, 208),
    // B
    txt('B', 3, 282, { size: 22, align: 'left' }),
    txt('Grand average (all neurons)', 185, 287),
    txt('ΔF/F', 20, 418, { rot: ROT }),
    hline(197, 233, 339, '#000', 2, [8, 5]), txt('1st Lick', 242, 339, { align: 'left' }),
    hline(197, 233, 356, RED, 1.8), txt('S2p', 242, 356, { align: 'left', color: RED }),
    hline(197, 233, 373, BLUE, 1.8), txt('M1p', 242, 373, { align: 'left', color: BLUE }),
    txt('500 ms', 166, 527),
    // C
    txt('C', 365, 282, { size: 22, align: 'left' }),
    txt('Before Lick', 483, 281), txt('(100 - 33 ms)', 483, 298),
    pSup('p = 2.0·10', '-4', 480, 320),
    txt('After Lick', 619, 281), txt('(33 - 167 ms)', 622, 298),
    pSup('p = 2.0·10', '-4', 617, 320),
    txt('ΔF/F', 384, 427, { rot: ROT }),
    ...C_LABEL_X.map((x, g) => txt(cLabels[g], x, 529, { color: GROUP_COLORS[g] })),
    // D
    txt('D', 3, 608, { size: 22, align: 'left' }),
    txt('Grand average (n = 6 mice)', 195, 617),
    txt('ΔF/F', 19, 734, { rot: ROT }),
    hline(195, 230, 663, '#000', 2, [8, 5]), txt('1st Lick', 240, 663, { align: 'left' }),
    hline(195, 230, 680, RED, 2.5), txt('S2p', 240, 680, { align: 'left', color: RED }),
    hline(195, 230, 698, BLUE, 2.5), txt('M1p', 240, 698, { align: 'left', color: BLUE }),
    txt('500 ms', 164, 836),
    // E
    txt('E', 365, 610, { size: 22, align: 'left' }),
    txt('Before Lick', 482, 607), txt('(100 - 33 ms)', 482, 625),
    txt('p = 0.031', 487, 647, { color: GRAY }),
    txt('After Lick', 618, 607), txt('(33 - 167 ms)', 620, 625),
    txt('p = 0.063', 629, 647, { color: GRAY }),
    txt('ΔF/F', 384, 735, { rot: ROT }),
    ...E_X.map((x, g) => txt(cLabels[g], 436 + x + 1, 829, { color: GROUP_COLORS[g] })),
  ];

  return {
    animation: false,
    backgroundColor: '#ffffff',
    textStyle: { fontFamily: FONT },
    grid: grids,
    xAxis,
    yAxis,
    series,
    graphic,
  };
}

export default function App() {
  const ref = useRef<HTMLDivElement>(null);
  useEffect(() => {
    if (!ref.current) return;
    const chart = echarts.init(ref.current, null, { renderer: 'svg' });
    chart.setOption(buildOption());
    return () => chart.dispose();
  }, []);
  return (
    <div
      ref={ref}
      style={{ position: 'absolute', left: 0, top: 0, width: 684, height: 846, background: '#fff' }}
    />
  );
}
